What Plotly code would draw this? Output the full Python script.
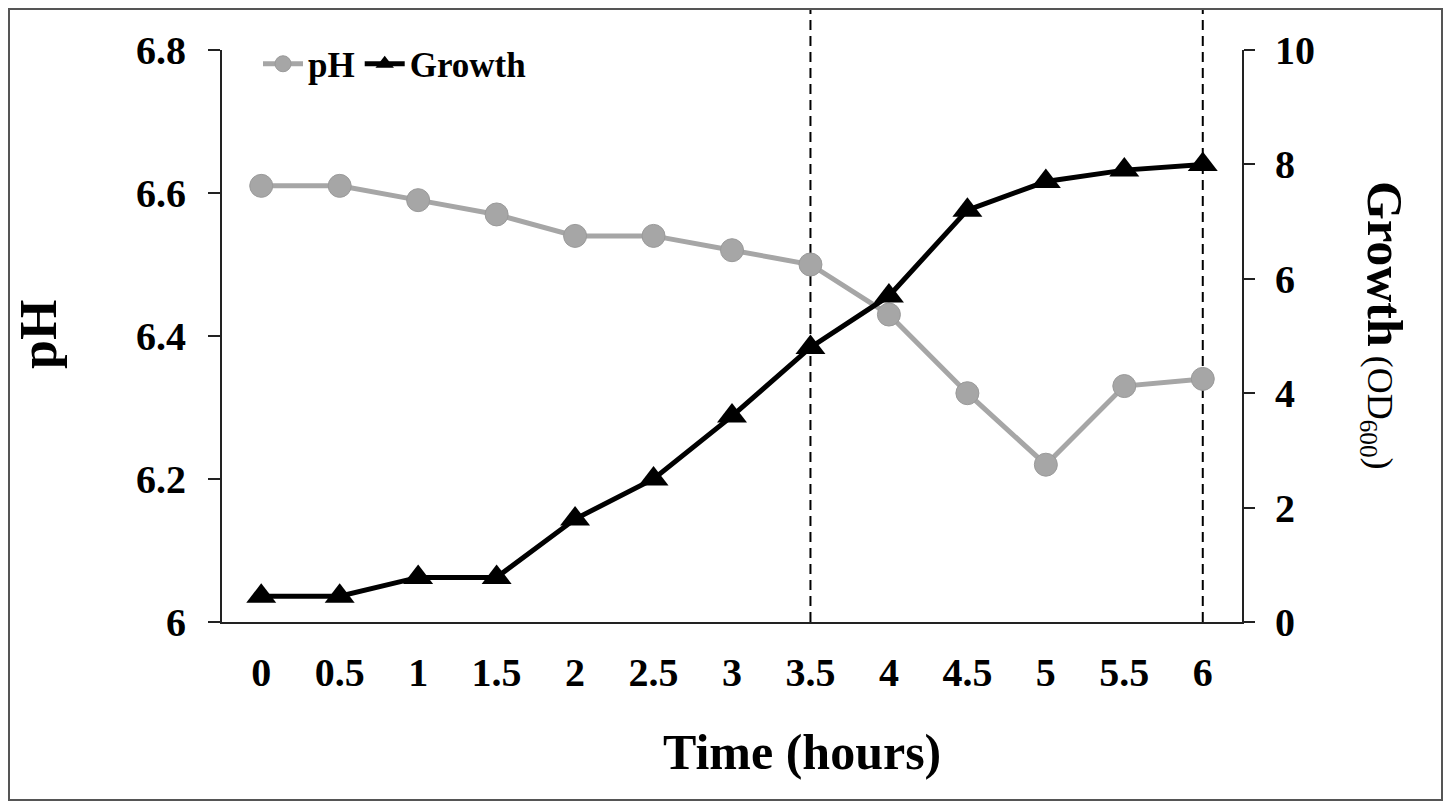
import plotly.graph_objects as go

# data
time_labels = ["0", "0.5", "1", "1.5", "2", "2.5", "3", "3.5", "4", "4.5", "5", "5.5", "6"]
ph_values = [6.61, 6.61, 6.59, 6.57, 6.54, 6.54, 6.52, 6.50, 6.43, 6.32, 6.22, 6.33, 6.34]
growth_values = [0.45, 0.45, 0.78, 0.78, 1.8, 2.5, 3.6, 4.8, 5.7, 7.2, 7.7, 7.9, 8.0]
ph_ticks = [6, 6.2, 6.4, 6.6, 6.8]
ph_tick_text = ["6", "6.2", "6.4", "6.6", "6.8"]
growth_ticks = [0, 2, 4, 6, 8, 10]
dashed_at = ["3.5", "6"]

FONT = "Liberation Serif"
OFF = 8  # page body margin
W, H = 1451 - 2 * OFF, 809 - 2 * OFF
L, T = 222 - OFF, 50 - OFF
R = W - (1242 - OFF)
B = H - (622 - OFF)
pw = W - L - R
ph_ = H - T - B

# helpers: screen pixel of the reference -> paper coords
def px_x(px):
    return (px - OFF - L) / pw

def px_y(py):
    return (H - B - (py - OFF)) / ph_

fig = go.Figure()

fig.add_trace(go.Scatter(
    x=time_labels, y=ph_values, name="<b>pH</b>", mode="lines+markers",
    line=dict(color="#a6a6a6", width=5),
    marker=dict(symbol="circle", size=23, color="#a6a6a6", line=dict(color="#9a9a9a", width=1)),
    yaxis="y",
))
fig.add_trace(go.Scatter(
    x=time_labels, y=growth_values, name="<b>Growth</b>", mode="lines+markers",
    line=dict(color="black", width=5),
    marker=dict(symbol="triangle-up", size=26, color="black"),
    yaxis="y2",
))

shapes = []
for t in dashed_at:
    i = time_labels.index(t)
    shapes.append(dict(type="line", xref="x", yref="paper", x0=i, x1=i, y0=0, y1=px_y(5),
                       line=dict(color="black", width=2, dash="10px,6px"), layer="below"))
# outer frame of the picture
shapes.append(dict(type="rect", xref="paper", yref="paper",
                   x0=px_x(OFF + 1), x1=px_x(1442), y0=px_y(800), y1=px_y(OFF + 1),
                   line=dict(color="#555555", width=2)))

annotations = [
    dict(text="<b>pH</b>", xref="paper", yref="paper", x=px_x(38), y=px_y(335),
         xanchor="center", yanchor="middle",
         showarrow=False, textangle=-90, font=dict(family=FONT, size=52, color="black")),
    dict(text="<b>Growth</b><span style='font-size:36px'> (OD<sub>600</sub>)</span>",
         xref="paper", yref="paper", x=px_x(1384), y=px_y(325),
         xanchor="center", yanchor="middle",
         showarrow=False, textangle=90, font=dict(family=FONT, size=50, color="black")),
    dict(text="<b>Time (hours)</b>", xref="paper", yref="paper", x=px_x(802), y=px_y(752),
         xanchor="center", yanchor="middle",
         showarrow=False, font=dict(family=FONT, size=50, color="black")),
]

fig.update_layout(
    width=W, height=H,
    margin=dict(l=L, r=R, t=T, b=B),
    paper_bgcolor="white", plot_bgcolor="white",
    showlegend=True,
    legend=dict(orientation="h", x=px_x(258), y=px_y(64), xanchor="left", yanchor="middle",
                font=dict(family=FONT, size=35, color="black"), bgcolor="rgba(0,0,0,0)",
                itemwidth=40, tracegroupgap=0),
    xaxis=dict(type="category", categoryorder="array", categoryarray=time_labels,
               range=[-0.5, len(time_labels) - 0.5],
               tickvals=time_labels, ticktext=[f"<b>{t}</b>" for t in time_labels],
               showgrid=False, zeroline=False, showline=True, linecolor="#222", linewidth=2,
               ticks="", ticklabelstandoff=14,
               tickfont=dict(family=FONT, size=40, color="black")),
    yaxis=dict(range=[6, 6.8], tickvals=ph_ticks, ticktext=[f"<b>{t}</b>" for t in ph_tick_text],
               showgrid=False, zeroline=False, showline=True, linecolor="#222", linewidth=2,
               ticks="outside", ticklen=12, tickcolor="#222", tickwidth=2, ticklabelstandoff=14,
               tickfont=dict(family=FONT, size=40, color="black")),
    yaxis2=dict(range=[0, 10], tickvals=growth_ticks, ticktext=[f"<b>{t}</b>" for t in growth_ticks],
                overlaying="y", side="right",
                showgrid=False, zeroline=False, showline=True, linecolor="#222", linewidth=2,
                ticks="outside", ticklen=11, tickcolor="#222", tickwidth=2, ticklabelstandoff=12,
                tickfont=dict(family=FONT, size=40, color="black")),
    shapes=shapes,
    annotations=annotations,
)

fig.write_html("out.html")
